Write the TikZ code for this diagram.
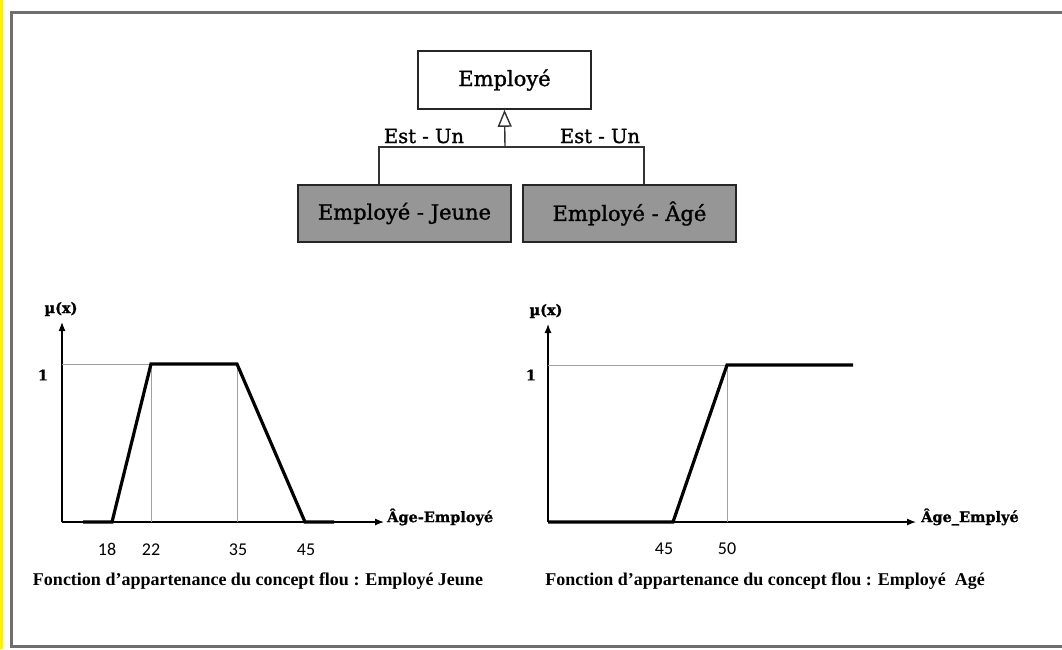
\documentclass[tikz,border=0pt]{standalone}
\usepackage{fontspec}
\setmainfont{Liberation Serif}
\newfontfamily\boxfont[FakeBold=1.2]{DejaVu Serif}
\newfontfamily\numfont{Carlito}
\usetikzlibrary{arrows.meta}
\definecolor{frame}{RGB}{110,110,110}
\definecolor{boxgray}{RGB}{150,150,150}
\definecolor{guide}{RGB}{160,160,160}
\begin{document}
\begin{tikzpicture}[x=1pt,y=-1pt,
  classbox/.style={draw=black!85,line width=1.6pt,minimum width=173pt,minimum height=58pt,inner sep=0pt,font=\boxfont\fontsize{21}{24}\selectfont},
  subbox/.style={classbox,fill=boxgray,minimum width=213pt,minimum height=57pt},
  link/.style={draw=black!80,line width=1.4pt},
  lbl/.style={font=\boxfont\fontsize{19.5}{22}\selectfont,inner sep=0pt},
  axis/.style={line width=1.2pt,-{Latex[length=9pt,width=7pt]}},
  mf/.style={line width=3.2pt,line join=miter},
  guideline/.style={draw=guide,line width=0.8pt},
  ticklbl/.style={font=\numfont\fontsize{18}{20}\selectfont,inner sep=0pt,anchor=base},
  axlbl/.style={font=\boxfont\bfseries\fontsize{14.5}{17}\selectfont,inner sep=0pt},
  captxt/.style={font=\bfseries\fontsize{18}{20}\selectfont,inner sep=0pt}
]
\useasboundingbox (0,0) rectangle (1062,649);
\fill[white] (0,0) rectangle (1062,649);
\fill[yellow] (0,0) rectangle (2.5,649);
\draw[frame,line width=2.2pt] (1070,12.5) -- (11.5,12.5) -- (11.5,646.5) -- (1070,646.5);

% class hierarchy
\node[classbox] (emp) at (504.5,80) {Employé};
\node[subbox] (jeune) at (404.5,213.5) {Employé - Jeune};
\node[subbox] (age) at (629.5,213.5) {Employé - Âgé};
\coordinate (junc) at (505,147);
\coordinate (jl) at (379,147);
\coordinate (jr) at (644,147);
\draw[link] (jeune.north -| jl) -- (jl) -- (jr) -- (age.north -| jr);
\draw[link,-{Triangle[open,length=17pt,width=14pt,line width=1.4pt]}] (junc) -- (emp.south);
\node[lbl,anchor=base] (l1) at (424,143) {Est - Un};
\node[lbl,anchor=base] (l2) at (600,143) {Est - Un};

% left graph
\coordinate (o1) at (62,522);
\coordinate (y1) at (62,322);
\coordinate (x1) at (384,522);
\draw[axis] (o1) -- (y1);
\draw[axis] (o1) -- (x1);
\draw[guideline] (62,364) -- (151,364);
\draw[guideline] (151,364) -- (151,522);
\draw[guideline] (237,364) -- (237,522);
\draw[mf] (83,522) -- (112,522) -- (151,364) -- (237,364) -- (305,522) -- (334,522);
\node[axlbl] (mu1) at (61,309) {µ(x)};
\node[axlbl] (one1) at (43,375) {1};
\node[axlbl,anchor=west] (ax1) at (387,517) {Âge-Employé};
\node[ticklbl] (t18) at (107,555) {18};
\node[ticklbl] (t22) at (151,555) {22};
\node[ticklbl] (t35) at (238,555) {35};
\node[ticklbl] (t45) at (306,555) {45};
\node[captxt] (cap1) at (258,581) {Fonction d’appartenance du concept flou : Employé Jeune};

% right graph
\coordinate (o2) at (548,522);
\coordinate (y2) at (548,324);
\coordinate (x2) at (916,522);
\draw[axis] (o2) -- (y2);
\draw[axis] (o2) -- (x2);
\draw[guideline] (548,365) -- (727,365);
\draw[guideline] (727,365) -- (727,522);
\draw[mf] (548,522) -- (673,522) -- (727,365) -- (853,365);
\node[axlbl] (mu2) at (546,311) {µ(x)};
\node[axlbl] (one2) at (531,375) {1};
\node[axlbl,anchor=west] (ax2) at (921,517) {Âge\_Emplyé};
\node[ticklbl] (t45b) at (664,554) {45};
\node[ticklbl] (t50) at (727,554) {50};
\node[captxt] (cap2) at (765,581) {Fonction d’appartenance du concept flou : Employé~~Agé};
\end{tikzpicture}
\end{document}
